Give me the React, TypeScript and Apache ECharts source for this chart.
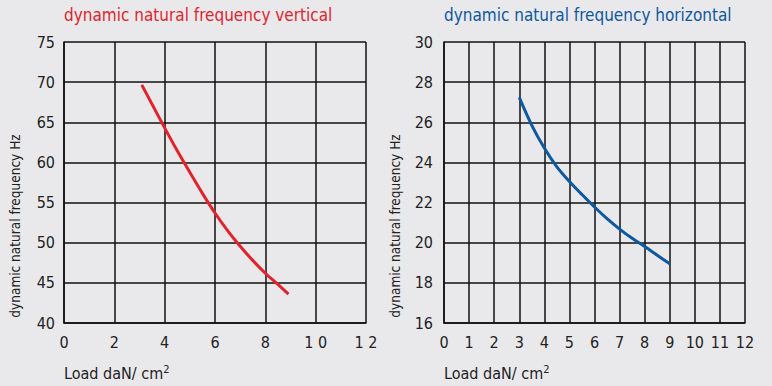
import React, { useEffect, useRef } from "react";
import * as echarts from "echarts";

const titleLeft = "dynamic natural frequency vertical";
const titleRight = "dynamic natural frequency horizontal";
const yAxisName = "dynamic natural frequency Hz";
const xAxisNameMain = "Load daN/ cm";
const xAxisNameSup = "2";

const leftXTickLabels = ["0", "2", "4", "6", "8", "1 0", "1 2"];
const leftLoad = [3.09, 3.5, 4.0, 4.5, 5.0, 5.5, 6.0, 6.5, 7.0, 7.5, 8.0, 8.5, 8.92];
const leftFreq = [69.66, 67.24, 64.3, 61.45, 58.77, 56.15, 53.7, 51.5, 49.55, 47.8, 46.2, 44.8, 43.6];

const rightLoad = [3.0, 3.5, 4.0, 4.5, 5.0, 5.5, 6.0, 6.5, 7.0, 7.5, 8.0, 8.5, 9.0];
const rightFreq = [27.24, 25.85, 24.72, 23.78, 23.05, 22.4, 21.78, 21.2, 20.68, 20.22, 19.81, 19.38, 18.95];

const FONT = "'Liberation Sans Narrow', 'DejaVu Sans Condensed', 'Open Sans', sans-serif";
const RED = "#e3232b";
const BLUE = "#0d58a1";

export default function App() {
  const ref = useRef<HTMLDivElement>(null);
  useEffect(() => {
    if (!ref.current) return;
    const chart = echarts.init(ref.current, undefined, { renderer: "svg" });
    const axisCommon = {
      axisLine: { show: true, lineStyle: { color: "#111", width: 1.5 } },
      axisTick: { show: false },
      splitLine: { show: true, lineStyle: { color: "#111", width: 1.5 } },
    };
    const labelStyle = { color: "#222", fontSize: 16, fontFamily: FONT };
    const xName = (x: number) => ({
      type: "text", x, y: 373,
      style: {
        text: `{a|${xAxisNameMain}}{s|${xAxisNameSup}}`,
        verticalAlign: "middle",
        rich: {
          a: { fontSize: 16, fontFamily: FONT, fill: "#222", color: "#222" },
          s: { fontSize: 11, fontFamily: FONT, fill: "#222", color: "#222", verticalAlign: "bottom", padding: [0, 0, 8, 0] },
        },
      },
    });
    chart.setOption({
      animation: false,
      backgroundColor: "#e9e9eb",
      grid: [
        { left: 64, top: 42, width: 302, height: 281 },
        { left: 444, top: 42, width: 301, height: 281 },
      ],
      xAxis: [
        {
          gridIndex: 0, type: "value", min: 0, max: 12, interval: 2, ...axisCommon,
          axisLabel: { ...labelStyle, margin: 11, formatter: (v: number) => leftXTickLabels[Math.round(v / 2)] ?? "" },
        },
        {
          gridIndex: 1, type: "value", min: 0, max: 12, interval: 1, ...axisCommon,
          axisLabel: { ...labelStyle, margin: 11 },
        },
      ],
      yAxis: [
        {
          gridIndex: 0, type: "value", min: 40, max: 75, interval: 5, ...axisCommon,
          axisLabel: { ...labelStyle, margin: 9 },
        },
        {
          gridIndex: 1, type: "value", min: 16, max: 30, interval: 2, ...axisCommon,
          axisLabel: { ...labelStyle, margin: 11 },
        },
      ],
      series: [
        {
          type: "line", xAxisIndex: 0, yAxisIndex: 0, smooth: 0.3, showSymbol: false,
          lineStyle: { color: RED, width: 3 },
          data: leftLoad.map((x, i) => [x, leftFreq[i]]),
        },
        {
          type: "line", xAxisIndex: 1, yAxisIndex: 1, smooth: 0.3, showSymbol: false,
          lineStyle: { color: BLUE, width: 3 },
          data: rightLoad.map((x, i) => [x, rightFreq[i]]),
        },
      ],
      graphic: [
        { type: "text", left: 64, top: 6, style: { text: titleLeft, fill: RED, font: `17px ${FONT}` } },
        { type: "text", left: 444, top: 6, style: { text: titleRight, fill: BLUE, font: `17px ${FONT}` } },
        { type: "text", x: 15, y: 226, rotation: Math.PI / 2, style: { text: yAxisName, fill: "#222", font: `13.5px ${FONT}`, align: "center", verticalAlign: "middle" } },
        { type: "text", x: 395, y: 226, rotation: Math.PI / 2, style: { text: yAxisName, fill: "#222", font: `13.5px ${FONT}`, align: "center", verticalAlign: "middle" } },
        xName(64),
        xName(444),
      ],
    });
    return () => chart.dispose();
  }, []);
  return <div ref={ref} style={{ position: "fixed", left: 0, top: 0, width: 772, height: 386 }} />;
}
